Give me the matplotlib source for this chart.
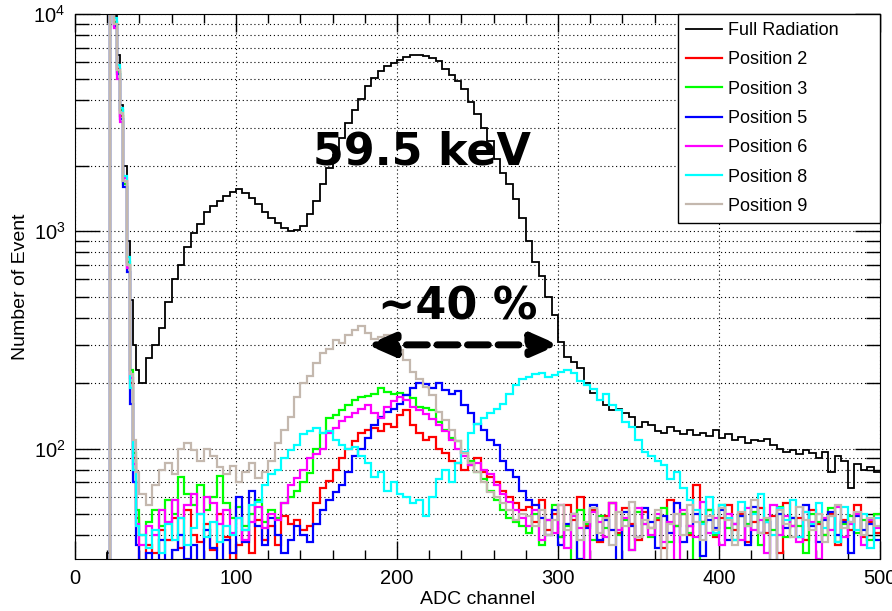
import numpy as np
import matplotlib
matplotlib.use("Agg")
import matplotlib.pyplot as plt
from matplotlib.ticker import MultipleLocator, LogLocator, NullFormatter

plt.rcParams['font.family'] = ['Liberation Sans', 'DejaVu Sans']
plt.rcParams['mathtext.default'] = 'regular'

# bin edges: one wide empty bin, 2-channel bins over the pedestal spike, then 4-channel bins
edges = np.concatenate([[0], np.arange(20, 40, 2), np.arange(40, 501, 4)])

full_rad = [1, 33, 12000, 9800, 6500, 3800, 2000, 900, 480, 300, 230,
            200, 260, 300, 360, 470, 600, 700, 850, 980, 1080,
            1220, 1300, 1380, 1450, 1520, 1560, 1500, 1420, 1330, 1230,
            1150, 1090, 1030, 1000, 1010, 1060, 1200, 1380, 1650, 1950,
            2250, 2700, 3150, 3600, 4050, 4650, 5100, 5450, 5750, 5950,
            6150, 6350, 6500, 6450, 6400, 6250, 6050, 5600, 5250, 4900,
            4500, 3950, 3450, 3000, 2600, 2150, 1850, 1650, 1400, 1150,
            900, 720, 620, 500, 410, 310, 265, 250, 235, 200,
            180, 168, 158, 150, 152, 145, 140, 126, 132, 128,
            120, 118, 125, 120, 116, 122, 115, 118, 114, 122,
            112, 116, 110, 113, 106, 110, 108, 111, 104, 100,
            96, 98, 94, 98, 95, 90, 96, 78, 92, 88,
            66, 85, 80, 82, 78]

pos2 = [1, 1, 12000, 9000, 5600, 3400, 1700, 700, 200, 90, 48,
        30, 36, 33, 42, 38, 48, 35, 52, 40, 37,
        45, 34, 50, 39, 29, 36, 42, 33, 47, 38,
        44, 36, 49, 45, 47, 42, 44, 56, 66, 71,
        80, 90, 99, 108, 118, 122, 124, 121, 130, 125,
        142, 150, 128, 118, 109, 113, 100, 95, 88, 86,
        80, 84, 90, 78, 74, 70, 64, 60, 56, 52,
        54, 46, 58, 42, 50, 39, 55, 47, 60, 44,
        52, 37, 49, 56, 41, 53, 45, 38, 51, 43,
        47, 35, 58, 44, 50, 40, 68, 46, 52, 39,
        48, 55, 42, 50, 37, 46, 53, 41, 49, 33,
        56, 44, 48, 38, 52, 45, 40, 50, 36, 47,
        42, 55, 39, 46, 41]

pos3 = [1, 1, 12500, 9200, 5400, 3600, 1650, 720, 230, 95, 52,
        40, 46, 52, 44, 58, 50, 74, 62, 55, 68,
        52, 60, 75, 56, 48, 54, 44, 50, 58, 46,
        52, 48, 56, 60, 64, 70, 77, 100, 118, 138,
        142, 150, 158, 168, 172, 175, 178, 190, 182, 178,
        180, 176, 170, 156, 154, 150, 132, 122, 112, 108,
        95, 88, 78, 72, 64, 58, 52, 48, 46, 44,
        41, 50, 36, 47, 55, 39, 44, 30, 52, 45,
        38, 49, 43, 56, 40, 47, 34, 51, 45, 39,
        48, 53, 37, 44, 50, 41, 29, 46, 52, 40,
        55, 43, 38, 49, 45, 51, 36, 47, 42, 54,
        39, 48, 44, 33, 50, 46, 40, 53, 37, 45,
        49, 41, 47, 38, 50]

pos5 = [1, 1, 11500, 8800, 5300, 3300, 1600, 650, 160, 70, 36,
        29, 33, 30, 38, 28, 34, 40, 31, 36, 29,
        42, 35, 30, 38, 33, 60, 37, 64, 44, 36,
        48, 40, 33, 38, 44, 40, 37, 45, 52, 58,
        63, 68, 78, 92, 100, 112, 128, 140, 148, 152,
        160, 176, 190, 200, 198, 190, 200, 185, 178, 184,
        158, 145, 130, 122, 110, 104, 88, 80, 74, 64,
        58, 55, 48, 40, 52, 36, 45, 50, 31, 43,
        55, 38, 47, 42, 29, 51, 44, 39, 53, 46,
        35, 49, 41, 56, 37, 44, 50, 32, 47, 43,
        52, 38, 45, 49, 36, 54, 41, 46, 30, 50,
        43, 48, 39, 55, 44, 37, 47, 51, 40, 46,
        33, 49, 42, 45, 38]

pos6 = [1, 1, 12000, 8600, 5000, 3200, 1750, 680, 210, 85, 45,
        36, 44, 40, 52, 46, 58, 48, 55, 62, 50,
        60, 56, 45, 52, 41, 48, 38, 46, 54, 43,
        50, 47, 56, 68, 73, 80, 90, 94, 100, 118,
        124, 134, 140, 146, 152, 158, 146, 138, 155, 165,
        172, 168, 156, 150, 144, 136, 128, 120, 110, 100,
        92, 84, 86, 80, 76, 68, 62, 57, 52, 48,
        44, 52, 38, 47, 41, 55, 35, 49, 43, 30,
        51, 46, 39, 56, 42, 48, 34, 53, 45, 40,
        50, 37, 46, 29, 52, 44, 39, 57, 41, 48,
        36, 50, 45, 38, 53, 42, 47, 33, 55, 40,
        49, 44, 37, 51, 46, 31, 48, 42, 54, 39,
        45, 50, 36, 47, 43]

pos8 = [1, 1, 13000, 9600, 5800, 3700, 1800, 760, 190, 80, 44,
        40, 35, 42, 33, 45, 38, 48, 36, 43, 50,
        39, 46, 37, 44, 40, 48, 42, 55, 57, 68,
        76, 80, 90, 98, 104, 116, 120, 124, 118, 121,
        110, 104, 100, 102, 92, 86, 74, 78, 64, 70,
        62, 60, 56, 58, 49, 60, 72, 80, 70, 86,
        96, 118, 130, 138, 146, 152, 160, 178, 196, 208,
        214, 220, 222, 214, 218, 224, 230, 222, 204, 196,
        188, 168, 178, 158, 150, 132, 126, 110, 96, 92,
        88, 84, 72, 78, 66, 58, 52, 45, 60, 41,
        55, 48, 38, 57, 44, 50, 62, 46, 40, 53,
        47, 58, 39, 51, 45, 56, 43, 49, 37, 54,
        46, 42, 50, 35, 48]

pos9 = [1, 1, 30000, 9000, 5500, 3500, 1700, 700, 220, 110, 78,
        62, 55, 68, 80, 86, 76, 100, 106, 98, 88,
        99, 92, 82, 76, 83, 70, 78, 86, 73, 78,
        88, 106, 122, 140, 172, 200, 215, 248, 275, 288,
        315, 305, 332, 350, 365, 340, 318, 325, 332, 305,
        285, 255, 225, 208, 192, 176, 148, 135, 122, 108,
        95, 86, 78, 70, 63, 60, 56, 52, 47, 50,
        49, 44, 52, 40, 47, 55, 42, 50, 38, 46,
        53, 41, 48, 36, 51, 44, 57, 39, 47, 43,
        52, 29, 45, 50, 40, 55, 46, 38, 49, 42,
        53, 47, 36, 51, 44, 58, 41, 48, 30, 52,
        45, 39, 54, 47, 42, 50, 37, 49, 55, 43,
        46, 51, 40, 48, 44]

series = [("Full Radiation", full_rad, "black"),
          ("Position 2", pos2, "#ff0000"),
          ("Position 3", pos3, "#00ff00"),
          ("Position 5", pos5, "#0000ff"),
          ("Position 6", pos6, "#ff00ff"),
          ("Position 8", pos8, "#00ffff"),
          ("Position 9", pos9, "#c4b8ae")]

fig = plt.figure(figsize=(8.92, 6.11), dpi=100)
ax = fig.add_axes([0.0841, 0.0851, 0.9024, 0.892])

for name, vals, col in series:
    lw = 1.3 if col == "black" else 1.6
    ax.stairs(vals, edges, baseline=None, color=col, lw=lw, label=name)

ax.set_yscale('log')
ax.set_xlim(0, 500)
ax.set_ylim(31, 1e4)

ax.xaxis.set_major_locator(MultipleLocator(100))
ax.xaxis.set_minor_locator(MultipleLocator(20))
ax.yaxis.set_major_locator(LogLocator(base=10))
ax.yaxis.set_minor_locator(LogLocator(base=10, subs=np.arange(2, 10)))
ax.yaxis.set_minor_formatter(NullFormatter())

ax.tick_params(axis='both', which='both', direction='in', top=True, right=True,
               labelsize=14.5, width=1)
ax.tick_params(axis='x', which='major', length=13, pad=7)
ax.tick_params(axis='x', which='minor', length=6.5)
ax.tick_params(axis='y', which='major', length=18, pad=7)
ax.tick_params(axis='y', which='minor', length=10)

ax.grid(True, which='major', axis='x', color='black', lw=0.8, ls=(0, (1, 2.5)))
ax.grid(True, which='both', axis='y', color='black', lw=0.8, ls=(0, (1, 2.5)))
ax.set_axisbelow(True)

ax.set_xlabel("ADC channel", fontsize=14, labelpad=2)
ax.set_ylabel("Number of Event", fontsize=14, labelpad=3)

ax.text(148, 2022, "59.5 keV", fontsize=32, fontweight='bold', family='DejaVu Sans',
        ha='left', va='baseline')
ax.text(188, 392, "~40 %", fontsize=32, fontweight='bold', family='DejaVu Sans',
        ha='left', va='baseline')
ax.annotate('', xy=(300.5, 300), xytext=(181.5, 300),
            arrowprops=dict(arrowstyle='<|-|>,head_length=0.8,head_width=0.35',
                            lw=5, ls=(0, (3, 1.4)), color='black',
                            mutation_scale=20, shrinkA=0, shrinkB=0))

leg = ax.legend(loc='upper left', bbox_to_anchor=(0.749, 0, 0.251, 1), mode='expand',
                borderaxespad=0, fontsize=13, labelspacing=0.68, handlelength=2.0,
                handletextpad=0.35, borderpad=0.45, fancybox=False, framealpha=1)
leg.get_frame().set_edgecolor('black')
leg.get_frame().set_linewidth(1)

fig.savefig("out.png", dpi=100)
